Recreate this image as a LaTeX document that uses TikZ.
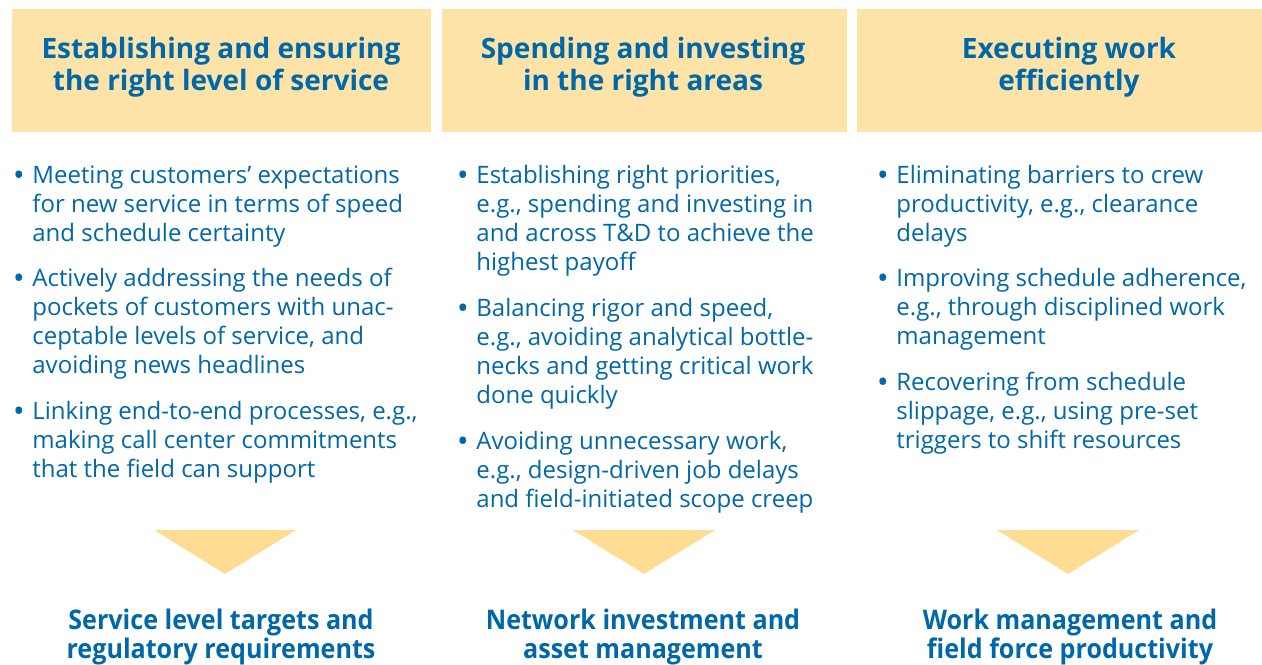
\documentclass[tikz,border=0pt]{standalone}
\usepackage{fontspec}
\setmainfont{Open Sans}
\newfontfamily\narrowfont[FakeStretch=0.93]{Open Sans}
\usetikzlibrary{positioning}

\definecolor{headyellow}{RGB}{253,227,168}
\definecolor{wedgeyellow}{RGB}{254,220,145}
\definecolor{textblue}{RGB}{0,103,168}

\tikzset{
  headbox/.style={fill=headyellow},
  wedge/.style={fill=wedgeyellow},
  headtext/.style={align=center,text=textblue,inner sep=0pt,
    font=\fontsize{14}{16}\selectfont\bfseries},
  itemtext/.style={align=left,anchor=north west,text=textblue,inner sep=0pt,
    font=\fontsize{12}{14.5}\selectfont},
  resulttext/.style={align=center,text=textblue,inner sep=0pt,
    font=\narrowfont\fontsize{13.5}{14.5}\selectfont\bfseries},
}
\newcommand{\bul}{\llap{{\bfseries\textbullet}\hspace{4.5pt}}}

\begin{document}
\begin{tikzpicture}[x=0.5pt,y=-0.5pt]
\useasboundingbox (0,0) rectangle (1262,664);

% the three header bars
\fill[headyellow] (12,9) rectangle (431,132);
\fill[headyellow] (442,9) rectangle (847,132);
\fill[headyellow] (857,9) rectangle (1262,132);

\node[headtext] (h1) at (221,67) {Establishing and ensuring\\the right level of service};
\node[headtext] (h2) at (643,67) {Spending and investing\\in the right areas};
\node[headtext] (h3) at (1069,67) {Executing work\\efficiently};

% service column
\node[itemtext] (s1) at (32,165) {\bul Meeting customers’ expectations\\for new service in terms of speed\\and schedule certainty};
\node[itemtext] (s2) at (32,268) {\bul Actively addressing the needs of\\pockets of customers with unac-\\ceptable levels of service, and\\avoiding news headlines};
\node[itemtext] (s3) at (32,401) {\bul Linking end-to-end processes, e.g.,\\making call center commitments\\that the field can support};

% spending column
\node[itemtext] (p1) at (476,165) {\bul Establishing right priorities,\\e.g., spending and investing in\\and across T\&D to achieve the\\highest payoff};
\node[itemtext] (p2) at (476,298) {\bul Balancing rigor and speed,\\e.g., avoiding analytical bottle-\\necks and getting critical work\\done quickly};
\node[itemtext] (p3) at (476,431) {\bul Avoiding unnecessary work,\\e.g., design-driven job delays\\and field-initiated scope creep};

% execution column
\node[itemtext] (e1) at (896,165) {\bul Eliminating barriers to crew\\productivity, e.g., clearance\\delays};
\node[itemtext] (e2) at (896,268) {\bul Improving schedule adherence,\\e.g., through disciplined work\\management};
\node[itemtext] (e3) at (896,372) {\bul Recovering from schedule\\slippage, e.g., using pre-set\\triggers to shift resources};

% down wedges
\foreach \cx in {225,644,1068}
  \fill[wedge] (\cx-71,530) -- (\cx+71,530) -- (\cx,574) -- cycle;

\node[resulttext] (r1) at (221,637) {Service level targets and\\regulatory requirements};
\node[resulttext] (r2) at (643,637) {Network investment and\\asset management};
\node[resulttext] (r3) at (1070,637) {Work management and\\field force productivity};

\end{tikzpicture}
\end{document}
